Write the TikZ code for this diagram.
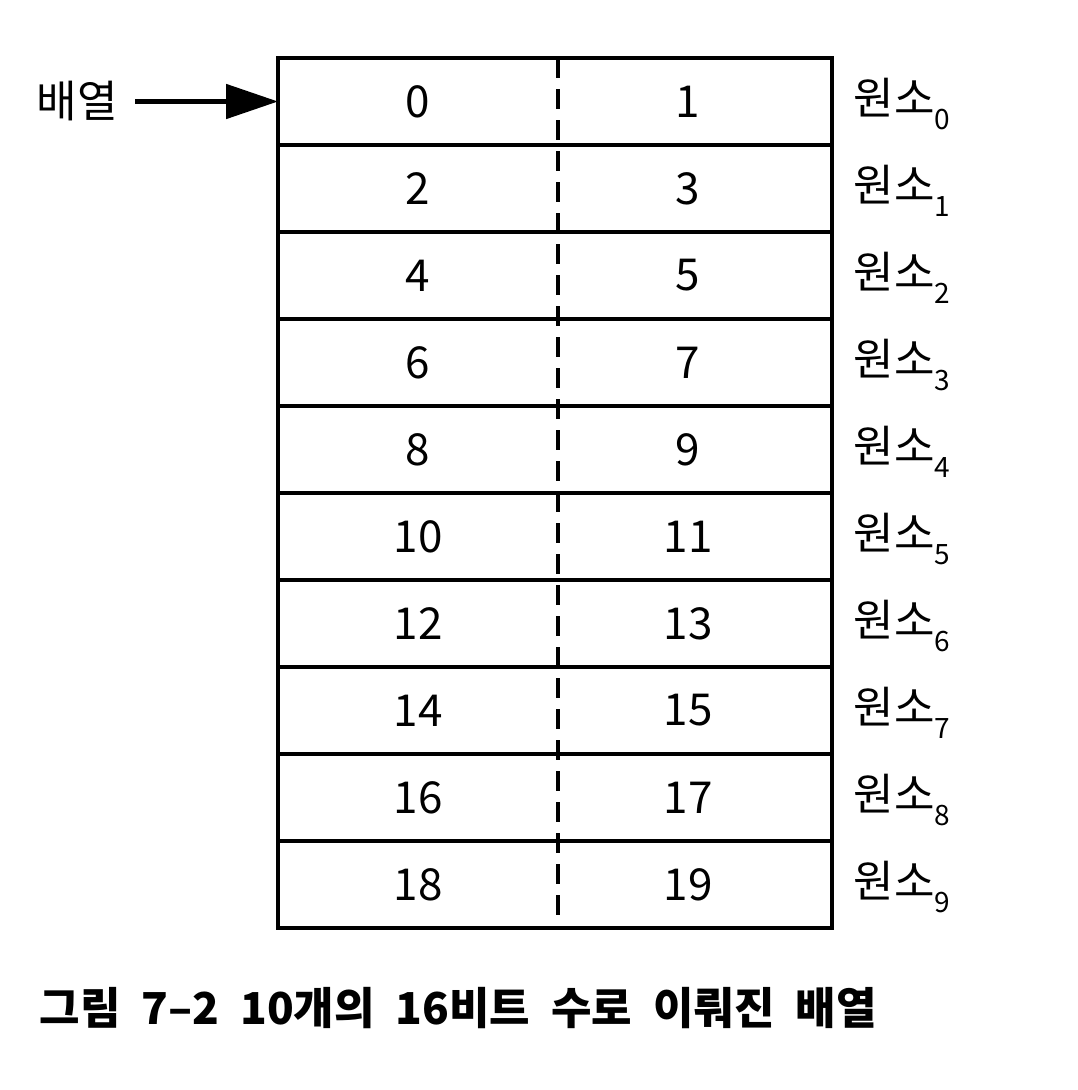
\documentclass[tikz,border=0pt]{standalone}
\usepackage{fontspec}
\setmainfont{Noto Sans CJK KR}
\usetikzlibrary{arrows.meta}
\begin{document}
\begin{tikzpicture}[x=1pt,y=-1pt,
  rowbox/.style={draw,line width=4pt,minimum width=554pt,minimum height=87pt,inner sep=0pt,outer sep=0pt},
  num/.style={font=\fontsize{44}{44}\selectfont},
  lab/.style={anchor=west,font=\fontsize{44}{44}\selectfont},
  divider/.style={line width=4pt,dash pattern=on 20pt off 11pt},
  pointer/.style={line width=5pt,-{Triangle[length=52pt,width=34pt]}},
  caption/.style={anchor=west,font=\fontsize{44}{44}\selectfont\bfseries}]
\useasboundingbox (0,0) rectangle (1078,1090);
\foreach \i in {0,...,9} {
  \pgfmathtruncatemacro\a{2*\i}
  \pgfmathtruncatemacro\b{2*\i+1}
  \node[rowbox] (r\i) at (555,101.5+87*\i) {};
  \node[num] (L\i) at (418,101.5+87*\i) {\a};
  \node[num] (R\i) at (688,101.5+87*\i) {\b};
  \node[lab] (E\i) at (850,104+87*\i) {원소\raisebox{-0.35em}{\fontsize{28}{28}\selectfont\i}};
}
\coordinate (dtop) at (558,58);
\coordinate (dbot) at (558,928);
\draw[divider] (dtop) -- (dbot);
\node[lab,anchor=center] (arr) at (77,101.5) {배열};
\draw[pointer,shorten <=14pt] (arr.east) -- (r0.west);
\node[caption] (cap) at (36,1008) {\spaceskip=21pt 그림 7–2 10개의 16비트 수로 이뤄진 배열};
\end{tikzpicture}
\end{document}
